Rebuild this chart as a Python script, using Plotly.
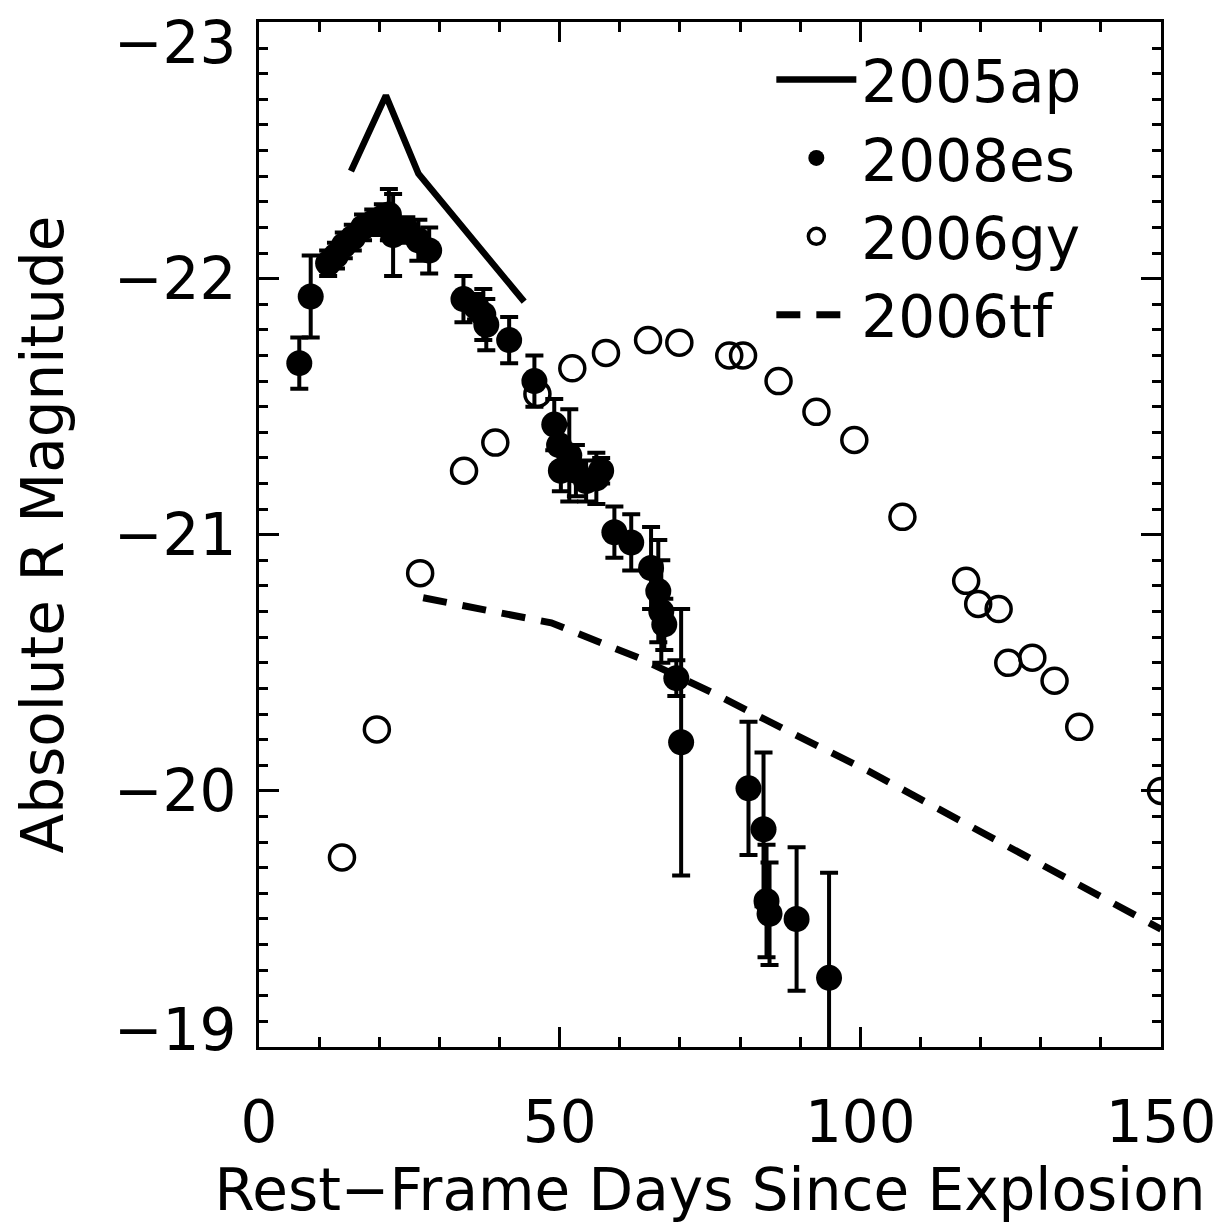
import plotly.graph_objects as go

# 2005ap (solid line)
ap_x = [15.3, 21.1, 26.5, 44.1]
ap_y = [-22.42, -22.715, -22.41, -21.91]

# 2008es (filled circles with error bars)
es_x = [6.7, 8.6, 11.5, 12.8, 14.1, 15.6, 17.3, 19.0, 20.6, 21.6, 22.3, 24.5, 26.5, 28.3,
        34.0, 36.1, 37.3, 37.8, 41.6, 45.8, 49.1, 49.9, 50.2, 51.6, 52.7, 54.4, 56.1, 56.9,
        59.1, 61.9, 65.2, 66.4, 66.9, 67.4, 69.4, 70.2, 81.4, 83.9, 84.4, 84.9, 89.4, 94.8]
es_y = [-21.67, -21.93, -22.06, -22.09, -22.13, -22.16, -22.20, -22.22, -22.24, -22.25, -22.17,
        -22.19, -22.15, -22.11, -21.92, -21.89, -21.86, -21.82, -21.76, -21.60, -21.43, -21.35,
        -21.25, -21.31, -21.25, -21.21, -21.22, -21.25, -21.01, -20.97, -20.87, -20.78, -20.70,
        -20.65, -20.44, -20.19, -20.01, -19.85, -19.57, -19.52, -19.50, -19.27]
es_err = [0.10, 0.16, 0.05, 0.05, 0.05, 0.05, 0.05, 0.05, 0.05, 0.10, 0.16, 0.05, 0.08, 0.09,
          0.09, 0.05, 0.10, 0.10, 0.09, 0.10, 0.10, 0.08, 0.08, 0.18, 0.10, 0.08, 0.10, 0.05,
          0.10, 0.11, 0.16, 0.20, 0.20, 0.10, 0.07, 0.52, 0.26, 0.30, 0.22, 0.20, 0.28, 0.41]

# 2006gy (open circles)
gy_x = [13.8, 19.6, 26.8, 34.1, 39.3, 46.3, 52.1, 57.7, 64.7, 69.9, 78.2, 80.5, 86.4, 92.7,
        99.0, 107.0, 117.6, 119.6, 123.0, 124.6, 128.6, 132.3, 136.4, 150.0]
gy_y = [-19.74, -20.24, -20.85, -21.25, -21.36, -21.55, -21.65, -21.71, -21.76, -21.75, -21.70,
        -21.70, -21.60, -21.48, -21.37, -21.07, -20.82, -20.73, -20.71, -20.50, -20.52, -20.43,
        -20.25, -20.00]

# 2006tf (dashed line)
tf_x = [27.3, 48.6, 63.1, 75.7, 88.5, 101.3, 150.0]
tf_y = [-20.754, -20.656, -20.52, -20.38, -20.227, -20.078, -19.46]

x_ticks = [0, 50, 100, 150]
y_ticks = [-23, -22, -21, -20, -19]
y_ticktext = ["", "\u221222", "\u221221", "\u221220", ""]
# end labels are drawn nudged inward (as in the original figure)
y_end_ticks = [-23, -19]
y_end_text = ["\u221223", "\u221219"]
y_end_shift = [-20, 17]

FONT = "DejaVu Sans"
FS = 58

fig = go.Figure()
fig.add_trace(go.Scatter(x=ap_x, y=ap_y, mode="lines", name="2005ap",
                         line=dict(color="black", width=6.5)))
fig.add_trace(go.Scatter(x=es_x, y=es_y, mode="markers", name="2008es",
                         marker=dict(symbol="circle", size=26, color="black"),
                         error_y=dict(type="data", array=es_err, color="black",
                                      thickness=4, width=9)))
fig.add_trace(go.Scatter(x=gy_x, y=gy_y, mode="markers", name="2006gy",
                         marker=dict(symbol="circle-open", size=25, color="black",
                                     line=dict(width=3.5, color="black"))))
fig.add_trace(go.Scatter(x=tf_x, y=tf_y, mode="lines", name="2006tf",
                         line=dict(color="black", width=7, dash="24px,16px")))

axis_common = dict(showline=True, linecolor="black", linewidth=3, mirror="ticks",
                   ticks="inside", ticklen=20, tickwidth=3, tickcolor="black",
                   showgrid=False, zeroline=False, automargin=False,
                   ticklabeloverflow="allow",
                   tickfont=dict(family=FONT, size=FS, color="black"))

fig.update_xaxes(range=[0, 150], tickvals=x_ticks, ticklabelstandoff=22,
                 minor=dict(dtick=10, ticks="inside", ticklen=10, tickwidth=3, tickcolor="black"),
                 title=dict(text="Rest\u2212Frame Days Since Explosion",
                            font=dict(family=FONT, size=FS, color="black"), standoff=0),
                 **axis_common)
fig.update_yaxes(range=[-19, -23.002], tickvals=y_ticks, ticktext=y_ticktext,
                 ticklabelstandoff=8,
                 minor=dict(dtick=0.1, ticks="inside", ticklen=9, tickwidth=3, tickcolor="black"),
                 title=dict(text="Absolute R Magnitude",
                            font=dict(family=FONT, size=FS, color="black"), standoff=32),
                 **axis_common)

for yv, txt, sh in zip(y_end_ticks, y_end_text, y_end_shift):
    fig.add_annotation(x=0, xref="paper", y=yv, yref="y", text=txt, showarrow=False,
                       xanchor="right", yanchor="middle", xshift=-21, yshift=sh,
                       font=dict(family=FONT, size=FS, color="black"))

fig.update_layout(
    width=1226, height=1225,
    margin=dict(l=251, r=73, t=14, b=186),
    plot_bgcolor="white", paper_bgcolor="white",
    showlegend=True,
    legend=dict(x=0.568, y=0.987, xanchor="left", yanchor="top",
                bgcolor="rgba(0,0,0,0)", borderwidth=0,
                font=dict(family=FONT, size=FS, color="black"),
                itemwidth=80, itemsizing="trace", tracegroupgap=0),
)

fig.write_html("out.html")
